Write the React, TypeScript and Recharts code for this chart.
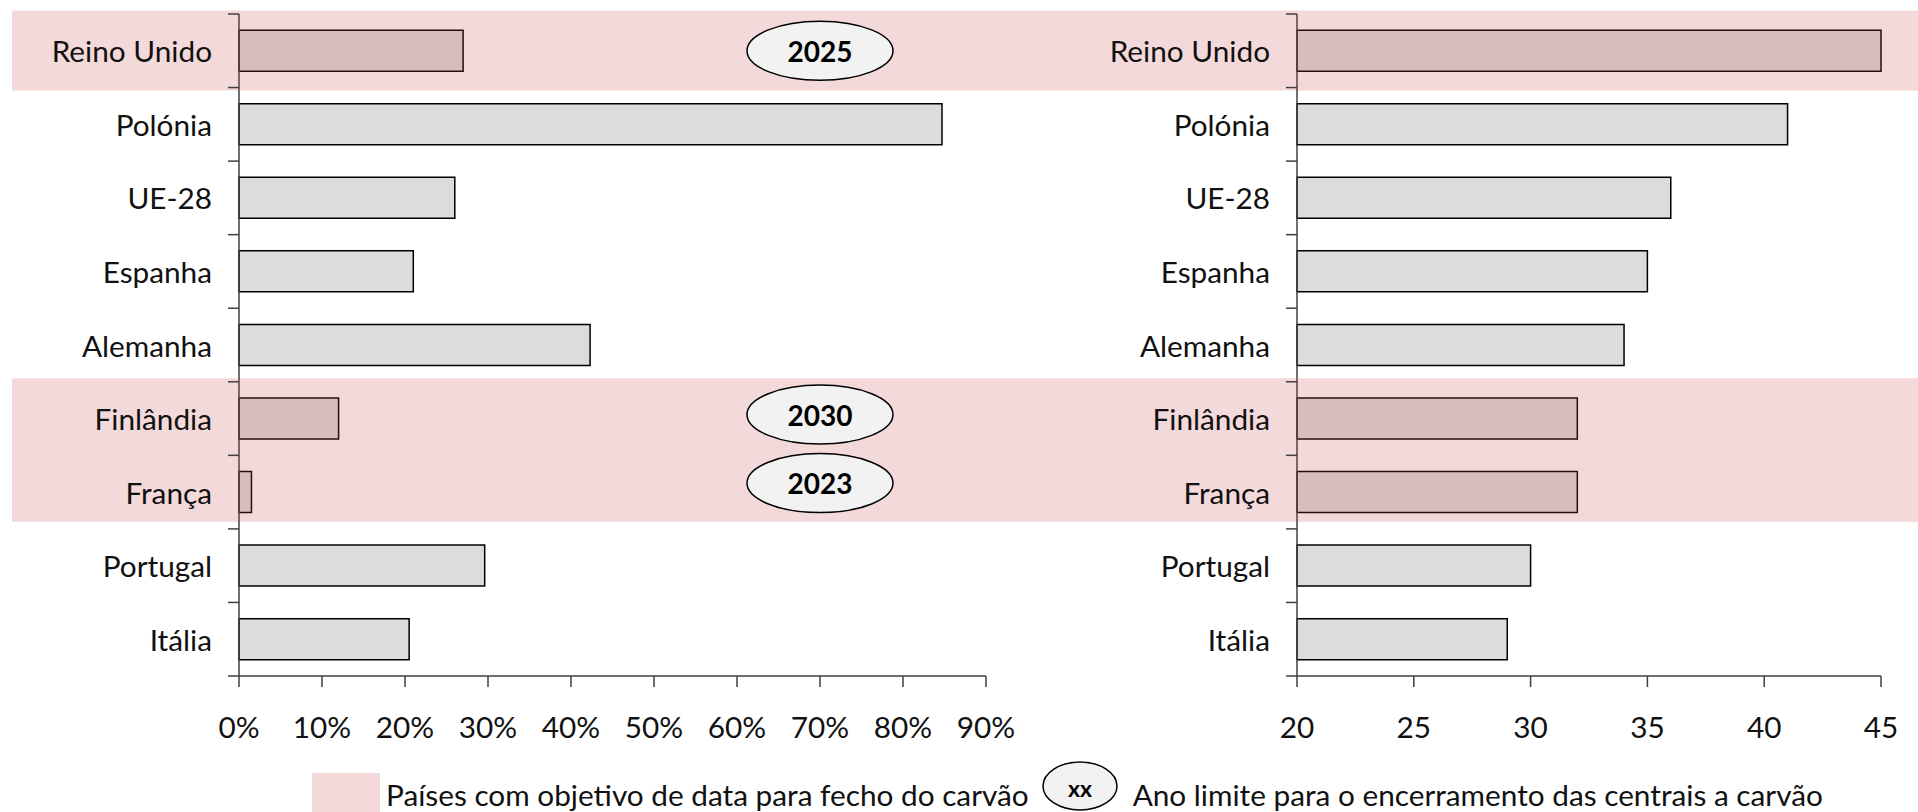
import { BarChart, Bar, XAxis, YAxis, ReferenceArea, ReferenceDot } from "recharts";

// values
const countries = ["Reino Unido", "Polónia", "UE-28", "Espanha", "Alemanha", "Finlândia", "França", "Portugal", "Itália"];
const coalShare = [0.27, 0.847, 0.26, 0.21, 0.423, 0.12, 0.015, 0.296, 0.205];
const rightValues = [45, 41, 36, 35, 34, 32, 32, 30, 29];
const shareTicks = [0, 0.1, 0.2, 0.3, 0.4, 0.5, 0.6, 0.7, 0.8, 0.9];
const rightTicks = [20, 25, 30, 35, 40, 45];

// countries with a coal phase-out date, and that date
const closureTargets = [
  { country: "Reino Unido", year: "2025" },
  { country: "Finlândia", year: "2030" },
  { country: "França", year: "2023" },
];
const highlightGroups = [
  ["Reino Unido", "Reino Unido"],
  ["Finlândia", "França"],
];

const leftData = countries.map((c, i) => ({ country: c, value: coalShare[i] }));
const rightData = countries.map((c, i) => ({ country: c, value: rightValues[i] }));

const FONT = "Lato, 'Open Sans', sans-serif";
const FONT_SIZE = 29.75;
const AXIS = "#404040";
const BAR_FILL = "#DCDCDC";
const BAND_FILL = "rgba(200, 65, 70, 0.2)";
const BAND_TOP_PAD = 3.5;
const BAND_BOTTOM_PAD = [3, -7];
const TICK_SIZE = 11;
const Y_TICK_MARGIN = 16;
const BADGE_AT = 0.7;
const BADGE_NUDGE: Record<string, number> = { "2030": -4, "2023": -9 };

const TOTAL_H = 770;
const LEFT_W = 1040;
const RIGHT_W = 1918 - LEFT_W;

function CategoryTick(props: any) {
  const { x, y, payload, index, visibleTicksCount } = props;
  const half = payload.offset ?? (676 - 14) / countries.length / 2;
  const x1 = x + Y_TICK_MARGIN;
  const x2 = x1 + TICK_SIZE;
  const isLast = visibleTicksCount ? index === visibleTicksCount - 1 : payload.value === countries[countries.length - 1];
  return (
    <g>
      <text x={x} y={y} textAnchor="end" dominantBaseline="central" fill="#111" fontFamily={FONT} fontSize={FONT_SIZE}>
        {payload.value}
      </text>
      <line x1={x1} x2={x2} y1={y - half} y2={y - half} stroke={AXIS} strokeWidth={1.5} />
      {isLast && <line x1={x1} x2={x2} y1={y + half} y2={y + half} stroke={AXIS} strokeWidth={1.5} />}
    </g>
  );
}

const bandShape = (left: number, right: number, bottomPad: number) => (p: any) => (
  <rect x={left} y={p.y - BAND_TOP_PAD} width={right - left} height={p.height + BAND_TOP_PAD + bottomPad} fill={BAND_FILL} />
);

const YearBadge = (year: string) => (p: any) => {
  const cy = p.cy + (BADGE_NUDGE[year] ?? 0);
  return (
    <g>
      <ellipse cx={p.cx} cy={cy} rx={73} ry={29.5} fill="#F2F2F2" stroke="#000" strokeWidth={1.5} />
      <text x={p.cx} y={cy} textAnchor="middle" dominantBaseline="central" fontFamily={FONT} fontWeight={700} fontSize={28} fill="#000">
        {year}
      </text>
    </g>
  );
};

const xTick = { fill: "#111", fontFamily: FONT, fontSize: FONT_SIZE };

function LeftChart() {
  return (
    <BarChart width={LEFT_W} height={TOTAL_H} data={leftData} layout="vertical" barCategoryGap="22%"
      margin={{ top: 14, right: 54, bottom: 34, left: 0 }}>
      <XAxis type="number" domain={[0, 0.9]} ticks={shareTicks} tickFormatter={(v) => `${Math.round(v * 100)}%`}
        tick={xTick} tickSize={TICK_SIZE} tickMargin={30} height={60}
        axisLine={{ stroke: AXIS, strokeWidth: 1.5 }} tickLine={{ stroke: AXIS, strokeWidth: 1.5 }} />
      <YAxis type="category" dataKey="country" width={239} tick={CategoryTick} tickLine={false}
        tickSize={TICK_SIZE} tickMargin={Y_TICK_MARGIN} interval={0}
        axisLine={{ stroke: AXIS, strokeWidth: 1.5 }} />
      <Bar dataKey="value" fill={BAR_FILL} stroke="#000" strokeWidth={1.5} isAnimationActive={false} />
      {highlightGroups.map(([a, b], i) => (
        <ReferenceArea key={a} y1={a} y2={b} ifOverflow="visible" zIndex={1000} shape={bandShape(12, LEFT_W, BAND_BOTTOM_PAD[i])} />
      ))}
      {closureTargets.map((t) => (
        <ReferenceDot key={t.year} x={BADGE_AT} y={t.country} ifOverflow="visible" zIndex={1100} shape={YearBadge(t.year)} />
      ))}
    </BarChart>
  );
}

function RightChart() {
  return (
    <BarChart width={RIGHT_W} height={TOTAL_H} data={rightData} layout="vertical" barCategoryGap="22%"
      margin={{ top: 14, right: 37, bottom: 34, left: 0 }}>
      <XAxis type="number" domain={[20, 45]} ticks={rightTicks} tick={xTick} tickSize={TICK_SIZE} tickMargin={30} height={60}
        axisLine={{ stroke: AXIS, strokeWidth: 1.5 }} tickLine={{ stroke: AXIS, strokeWidth: 1.5 }} />
      <YAxis type="category" dataKey="country" width={257} tick={CategoryTick} tickLine={false}
        tickSize={TICK_SIZE} tickMargin={Y_TICK_MARGIN} interval={0}
        axisLine={{ stroke: AXIS, strokeWidth: 1.5 }} />
      <Bar dataKey="value" fill={BAR_FILL} stroke="#000" strokeWidth={1.5} isAnimationActive={false} />
      {highlightGroups.map(([a, b], i) => (
        <ReferenceArea key={a} y1={a} y2={b} ifOverflow="visible" zIndex={1000} shape={bandShape(0, RIGHT_W, BAND_BOTTOM_PAD[i])} />
      ))}
    </BarChart>
  );
}

function Legend() {
  const text = { fontFamily: FONT, fontSize: FONT_SIZE, color: "#111", whiteSpace: "nowrap" as const };
  return (
    <div style={{ position: "absolute", left: 312, top: 773, height: 42, display: "flex", alignItems: "center" }}>
      <div style={{ width: 68, height: 39, alignSelf: "flex-start", background: "#F4D9DA" }} />
      <span style={{ ...text, marginLeft: 6 }}>Países com objetivo de data para fecho do carvão</span>
      <svg width={80} height={50} style={{ marginLeft: 11, alignSelf: "flex-start", marginTop: -12, overflow: "visible" }}>
        <ellipse cx={40} cy={25} rx={37} ry={24} fill="#F2F2F2" stroke="#000" strokeWidth={1.5} />
        <text x={40} y={27} textAnchor="middle" dominantBaseline="central" fontFamily={FONT} fontWeight={700} fontSize={23}>xx</text>
      </svg>
      <span style={{ ...text, marginLeft: 13 }}>Ano limite para o encerramento das centrais a carvão</span>
    </div>
  );
}

export default function App() {
  return (
    <div style={{ position: "absolute", left: 0, top: 0, width: 1918, height: 812, overflow: "hidden", background: "#fff" }}>
      <div style={{ position: "absolute", left: 0, top: 0 }}>
        <LeftChart />
      </div>
      <div style={{ position: "absolute", left: LEFT_W, top: 0 }}>
        <RightChart />
      </div>
      <Legend />
    </div>
  );
}
